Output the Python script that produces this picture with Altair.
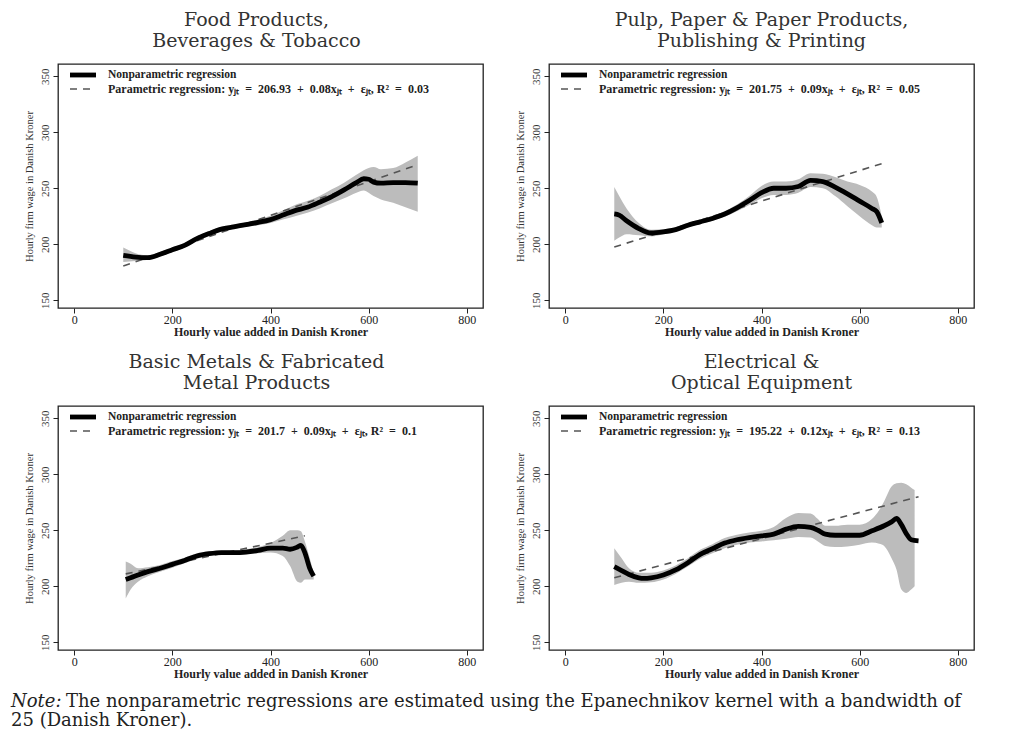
import altair as alt
import pandas as pd

# ---------------- data ----------------
titles = [
    ["Food Products,", "Beverages & Tobacco"],
    ["Pulp, Paper & Paper Products,", "Publishing & Printing"],
    ["Basic Metals & Fabricated", "Metal Products"],
    ["Electrical &", "Optical Equipment"],
]
S = "\u2002"
param_labels = [
    f"Parametric regression: yⱼₜ{S}={S}206.93{S}+{S}0.08xⱼₜ{S}+{S}εⱼₜ, R²{S}={S}0.03",
    f"Parametric regression: yⱼₜ{S}={S}201.75{S}+{S}0.09xⱼₜ{S}+{S}εⱼₜ, R²{S}={S}0.05",
    f"Parametric regression: yⱼₜ{S}={S}201.7{S}+{S}0.09xⱼₜ{S}+{S}εⱼₜ, R²{S}={S}0.1",
    f"Parametric regression: yⱼₜ{S}={S}195.22{S}+{S}0.12xⱼₜ{S}+{S}εⱼₜ, R²{S}={S}0.13",
]
np_label = "Nonparametric regression"
x_ticks = [0, 200, 400, 600, 800]
y_ticks = [150, 200, 250, 300, 350]

# Panel 1: Food
np_x1 = [100, 125, 150, 175, 200, 225, 250, 275, 300, 325, 350, 375, 400, 425, 450,
         475, 500, 525, 550, 575, 590, 600, 610, 625, 650, 675, 700]
np_y1 = [190, 188.5, 188, 191, 195, 199, 205, 209.5, 213.5, 215.5, 217.5, 219.5, 222, 226, 230,
         233, 237.5, 242.5, 248.5, 255, 258.5, 258, 255.5, 254.5, 255, 255, 254.5]
lo_1 = [184, 185, 186, 189, 193, 197, 203, 207.5, 211.5, 213.5, 215.5, 217, 219, 222, 225,
        228, 232, 236.5, 241, 246, 248, 246, 243, 240, 237, 233, 229]
hi_1 = [197, 192, 190, 193, 197, 201, 207, 211.5, 215.5, 217.5, 219.5, 222, 225.5, 230, 235,
        238.5, 243, 249, 255, 262, 266, 268, 269, 267, 268, 273, 279]
par_x1 = [100, 700]
par_y1 = [180.5, 271]

# Panel 2: Pulp & paper
np_x2 = [100, 110, 125, 150, 175, 200, 225, 250, 275, 300, 325, 350, 375, 400, 425,
         450, 475, 500, 525, 550, 575, 600, 625, 635, 645]
np_y2 = [227, 226, 221, 214, 210, 211, 213, 217, 220, 223, 227, 232.5, 239, 246, 250,
         250, 251.5, 257, 256, 251, 245, 238.5, 232, 229, 219]
lo_2 = [203, 206, 209, 208, 207, 209, 211, 215, 218, 221, 224.5, 229.5, 235, 241, 244,
        244, 246, 251, 250, 243, 234, 225, 217, 215, 215]
hi_2 = [251, 243, 232, 219, 213, 213.5, 215, 219, 222, 225.5, 229.5, 235.5, 243, 252, 256,
        256, 258, 263.5, 263, 260, 256, 253, 247, 242, 225]
par_x2 = [100, 645]
par_y2 = [197.5, 272]

# Panel 3: Basic metals
np_x3 = [105, 115, 130, 150, 175, 200, 225, 250, 275, 300, 325, 350, 375, 400, 425,
         440, 455, 462, 470, 480, 488]
np_y3 = [206, 207.5, 210, 213, 216, 219.5, 223, 227, 229, 230, 230, 230.5, 232, 234, 234,
         233, 235, 236.5, 230, 216, 209]
lo_3 = [189, 197, 204, 209, 213, 216.5, 220.5, 224.5, 227, 228, 228, 228.5, 229.5, 230, 227,
        218, 204, 203, 206, 206, 206]
hi_3 = [222, 220, 216, 217, 219, 222.5, 225.5, 229.5, 231, 232, 232, 233, 235, 238.5, 245,
        250, 250, 249, 240, 225, 212]
par_x3 = [105, 470]
par_y3 = [211, 245]

# Panel 4: Electrical & optical
np_x4 = [100, 115, 130, 150, 160, 175, 200, 225, 250, 275, 300, 325, 350, 375, 400, 425,
         450, 475, 500, 515, 530, 550, 575, 600, 625, 650, 665, 675, 685, 695, 705, 720]
np_y4 = [217.5, 214, 210.5, 207.5, 207, 207.5, 210, 214.5, 221, 228.5, 233.5, 238.5, 241.5,
         243.5, 245, 246.5, 251, 253.5, 252.5, 250, 246.5, 245.5, 245.5, 245.5, 249.5, 254,
         257.5, 260.5, 255, 247, 241.5, 240.5]
band_x4 = [100, 115, 130, 150, 175, 200, 225, 250, 275, 300, 325, 350, 375, 400, 425, 450,
           475, 500, 515, 530, 550, 575, 600, 625, 640, 650, 665, 675, 685, 695, 705, 712]
lo_4 = [201, 203, 204, 203, 203.5, 206, 211, 217.5, 224.5, 229.5, 234, 237, 239, 240, 241,
        242.5, 244, 243.5, 240, 236, 235, 235.5, 237, 239, 238, 236, 225, 215, 197, 194, 197, 200]
hi_4 = [234, 225, 216, 212, 212, 214, 218.5, 225, 232.5, 237.5, 243, 246, 248, 249.5, 253,
        261, 265.5, 265, 260, 254, 254, 255, 255, 260, 268, 276, 289, 292, 292.5, 291, 288, 286]
par_x4 = [100, 720]
par_y4 = [207.5, 280]

note_italic = "Note:"
note_line1 = "The nonparametric regressions are estimated using the Epanechnikov kernel with a bandwidth of"
note_line2 = "25 (Danish Kroner)."

# ---------------- chart construction ----------------
SERIF = "Liberation Serif"
TITLE_FONT = "DejaVu Serif"
W, H = 425, 244


def panel(title, dx, npx, npy, bx, blo, bhi, px, py, plabel):
    xs = alt.Scale(domain=[-33, 833], nice=False, zero=False)
    ys = alt.Scale(domain=[143, 361], nice=False, zero=False)
    xax = alt.Axis(values=x_ticks, title="Hourly value added in Danish Kroner", grid=False,
                   domain=False, tickSize=5, tickColor="#222", labelPadding=1,
                   labelFont=SERIF, labelFontSize=12, labelColor="#222",
                   titleFont=SERIF, titleFontSize=12, titleFontWeight="bold",
                   titleColor="#222", titlePadding=1)
    yax = alt.Axis(values=y_ticks, title="Hourly firm wage in Danish Kroner", grid=False,
                   domain=False, tickSize=5, tickColor="#222", labelPadding=3,
                   labelAngle=270, labelAlign="center", labelBaseline="bottom",
                   labelFont=SERIF, labelFontSize=11, labelColor="#333",
                   titleFont=SERIF, titleFontSize=10.5, titleFontWeight="normal",
                   titleColor="#333", titlePadding=5)
    band = alt.Chart(pd.DataFrame({"x": bx, "lo": blo, "hi": bhi})).mark_area(
        color="#bcbcbc", interpolate="monotone").encode(
        x=alt.X("x:Q", scale=xs, axis=xax),
        y=alt.Y("lo:Q", scale=ys, axis=yax),
        y2="hi:Q")
    par = alt.Chart(pd.DataFrame({"x": px, "y": py})).mark_line(
        color="#555", strokeWidth=1.6, strokeDash=[7, 6]).encode(
        x=alt.X("x:Q", scale=xs), y=alt.Y("y:Q", scale=ys))
    npl = alt.Chart(pd.DataFrame({"x": npx, "y": npy})).mark_line(
        color="#000", strokeWidth=4.8, interpolate="monotone").encode(
        x=alt.X("x:Q", scale=xs), y=alt.Y("y:Q", scale=ys))
    one = pd.DataFrame({"k": [0]})
    leg1 = alt.Chart(one).mark_rule(color="#000", strokeWidth=4.8).encode(
        x=alt.value(12), x2=alt.value(38), y=alt.value(11))
    leg2 = alt.Chart(one).mark_rule(color="#555", strokeWidth=1.6, strokeDash=[7, 6]).encode(
        x=alt.value(12), x2=alt.value(38), y=alt.value(25))
    t1 = alt.Chart(pd.DataFrame({"t": [np_label]})).mark_text(
        font=SERIF, fontSize=11.5, fontWeight="bold", color="#222", align="left",
        baseline="middle").encode(x=alt.value(50), y=alt.value(11), text="t:N")
    t2 = alt.Chart(pd.DataFrame({"t": [plabel]})).mark_text(
        font=SERIF, fontSize=12, fontWeight="bold", color="#222", align="left",
        baseline="middle").encode(x=alt.value(50), y=alt.value(25), text="t:N")
    return alt.layer(band, par, npl, leg1, leg2, t1, t2).properties(
        width=W, height=H,
        title=alt.TitleParams(text=title, anchor="middle", frame="group", dx=dx,
                              font=TITLE_FONT, fontSize=19, fontWeight="normal",
                              color="#333", lineHeight=21, offset=13))


p1 = panel(titles[0], -14, np_x1, np_y1, np_x1, lo_1, hi_1, par_x1, par_y1, param_labels[0])
p2 = panel(titles[1], 0, np_x2, np_y2, np_x2, lo_2, hi_2, par_x2, par_y2, param_labels[1])
p3 = panel(titles[2], -14, np_x3, np_y3, np_x3, lo_3, hi_3, par_x3, par_y3, param_labels[2])
p4 = panel(titles[3], 0, np_x4, np_y4, band_x4, lo_4, hi_4, par_x4, par_y4, param_labels[3])

n0 = alt.Chart(pd.DataFrame({"t": [note_italic]})).mark_text(
    font="DejaVu Serif", fontSize=18, fontStyle="italic", color="#222", align="left",
    baseline="middle").encode(x=alt.value(-47), y=alt.value(9), text="t:N")
n1 = alt.Chart(pd.DataFrame({"t": [note_line1]})).mark_text(
    font="DejaVu Serif", fontSize=18, color="#222", align="left",
    baseline="middle").encode(x=alt.value(8), y=alt.value(9), text="t:N")
n2 = alt.Chart(pd.DataFrame({"t": [note_line2]})).mark_text(
    font="DejaVu Serif", fontSize=18, color="#222", align="left",
    baseline="middle").encode(x=alt.value(-47), y=alt.value(28), text="t:N")
note = alt.layer(n0, n1, n2).properties(width=900, height=30,
                                         view=alt.ViewBackground(stroke="transparent"))

grid = alt.vconcat(
    alt.hconcat(p1, p2, spacing=30),
    alt.hconcat(p3, p4, spacing=30),
    spacing=14,
)
chart = alt.vconcat(grid, note, spacing=12).properties(
    padding={"left": 2, "top": 2, "right": 0, "bottom": 0},
    background="white",
).configure_view(stroke="#222", strokeWidth=1.3)

chart.save("out.html", embed_options={"renderer": "svg", "actions": False})
